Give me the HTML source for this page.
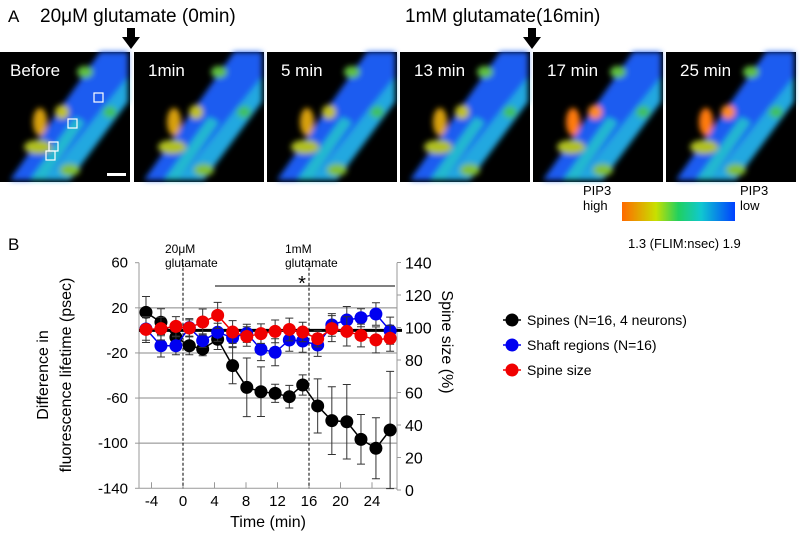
<!DOCTYPE html>
<html><head><meta charset="utf-8"><style>
body{margin:0;width:800px;height:536px;background:#fff;overflow:hidden;font-family:"Liberation Sans",Arial,sans-serif;}
svg{position:absolute;left:0;top:0}
</style></head><body>
<svg width="800" height="536" viewBox="0 0 800 536">
<defs>
<filter id="bl" x="-20%" y="-20%" width="140%" height="140%"><feGaussianBlur stdDeviation="3"/></filter>
<linearGradient id="cb" x1="0" x2="1"><stop offset="0" stop-color="#ff6a00"/><stop offset="0.3" stop-color="#c8e000"/><stop offset="0.5" stop-color="#20d060"/><stop offset="0.7" stop-color="#10c8d0"/><stop offset="1" stop-color="#0040ff"/></linearGradient>
</defs>
<text x="8" y="22" font-size="17">A</text>
<text x="40" y="22" font-size="19">20μM glutamate (0min)</text>
<text x="405" y="22" font-size="19">1mM glutamate(16min)</text>
<g><rect x="127" y="28" width="8" height="10" fill="#000"/><polygon points="122,37 140,37 131,49" fill="#000"/></g>
<g><rect x="528" y="28" width="8" height="10" fill="#000"/><polygon points="523,37 541,37 532,49" fill="#000"/></g>
<g id="panels"></g>
<g>
<text x="583" y="195" font-size="13">PIP3</text><text x="583" y="210" font-size="13">high</text>
<rect x="622" y="202" width="113" height="19" fill="url(#cb)"/>
<text x="740" y="195" font-size="13">PIP3</text><text x="740" y="210" font-size="13">low</text>
<text x="628" y="248" font-size="13">1.3 (FLIM:nsec) 1.9</text>
</g>
<text x="8" y="250" font-size="17">B</text>
<g id="chart"></g>
</svg>
<script>
const NS="http://www.w3.org/2000/svg";
function mk(tag,attrs,parent){const e=document.createElementNS(NS,tag);for(const k in attrs)e.setAttribute(k,attrs[k]);parent.appendChild(e);return e;}
const panelLabels=["Before","1min","5 min","13 min","17 min","25 min"];
const panelX=[0,134,267,400,533,666];
const pg=document.getElementById('panels');
panelLabels.forEach((lb,i)=>{
 const g=mk('g',{transform:`translate(${panelX[i]},52)`},pg);
 
 
 mk('rect',{x:0,y:0,width:130,height:130,fill:'#000'},g);
 const b=mk('g',{filter:'url(#bl)'},g);
 mk('polygon',{points:'10,128 70,128 128,40 128,0 100,0',fill:'#1a5cf0'},b);
 mk('polygon',{points:'45,128 70,128 128,50 128,25',fill:'#20a8e0'},b);
 mk('polygon',{points:'30,128 45,128 85,70 75,65',fill:'#20b8d0'},b);
 mk('ellipse',{cx:40,cy:70,rx:7,ry:14,fill:i>3?'#ff7a10':'#d8a010'},b);
 mk('ellipse',{cx:62,cy:60,rx:7,ry:7,fill:i>3?'#ff8a20':'#c0c020'},b);
 mk('ellipse',{cx:38,cy:95,rx:14,ry:7,fill:'#b0c020'},b);
 mk('ellipse',{cx:110,cy:60,rx:7,ry:6,fill:'#40c060'},b);
 mk('ellipse',{cx:85,cy:20,rx:8,ry:6,fill:'#60c040'},b);
 mk('ellipse',{cx:70,cy:118,rx:10,ry:6,fill:'#80c030'},b);
 const t=mk('text',{x:i==0?10:14,y:24,'font-size':17,fill:'#fff'},g);t.textContent=lb;
 if(i==0){
  [[96,43],[70,69],[51,92],[48,101]].forEach(p=>mk('rect',{x:p[0]-2,y:p[1]-2,width:9,height:9,fill:'none',stroke:'#fff','stroke-width':1.2},g));
  mk('rect',{x:107,y:121,width:19,height:3,fill:'#fff'},g);
 }
});
const times=[-4.7,-2.8,-0.9,0.8,2.5,4.4,6.3,8.1,9.9,11.7,13.5,15.2,17.1,18.9,20.8,22.6,24.5,26.3];
const spines=[16,7.2,-6.1,-13.6,-16.5,-7.9,-31.3,-50.5,-54.4,-55.8,-58.8,-48.4,-67,-80,-81,-96.6,-104.5,-88.3];
const spinesErr=[14,12,10,8,6,9,16,26,22,8,10,9,24,30,33,22,27,52];
const shaft=[1.2,-13.6,-13.6,2.4,-9.1,-1.7,-6.5,-2.6,-16.8,-19.4,-8.5,-9.4,-13,4.8,9.2,11.2,14.5,-0.3];
const shaftErr=[10,10,8,8,6,8,8,8,10,12,10,10,10,10,12,8,10,12];
const spineSize=[98.8,99.3,100.7,99.7,103.4,107.5,97.2,94.5,96.2,97.6,98.8,97.2,93.1,99.3,97.6,95.1,92.4,93.4];
const spineSizeErr=[8,7,6,5,8,8,7,6,6,7,7,6,5,8,9,7,8,8];
const leftTicks=[60,20,-20,-60,-100,-140];
const rightTicks=[140,120,100,80,60,40,20,0];
const xTicks=[-4,0,4,8,12,16,20,24];
const X=t=>183+t*7.875;
const YL=v=>262.7+(60-v)*1.128;
const YR=v=>490+(0-v)*1.625;
const c=document.getElementById('chart');
const PL=139,PR=397,PT=262.7,PB=488.3;
leftTicks.slice(1,5).forEach(v=>{const l=mk('line',{x1:PL,x2:PR,y1:YL(v),y2:YL(v),stroke:'#888','stroke-width':1},c);});
let ax=mk('line',{x1:PL,x2:PL,y1:PT,y2:PB,stroke:'#999'},c);
ax=mk('line',{x1:PR,x2:PR,y1:PT,y2:490,stroke:'#999'},c);
ax=mk('line',{x1:PL,x2:PR,y1:PB,y2:PB,stroke:'#999'},c);
leftTicks.forEach(v=>{mk('line',{x1:PL-4,x2:PL,y1:YL(v),y2:YL(v),stroke:'#999'},c);const t=mk('text',{x:PL-11,y:YL(v)+5,'font-size':15,'text-anchor':'end'},c);t.textContent=v;});
rightTicks.forEach(v=>{mk('line',{x1:PR,x2:PR+4,y1:YR(v),y2:YR(v),stroke:'#999'},c);const t=mk('text',{x:PR+8,y:YR(v)+6,'font-size':16},c);t.textContent=v;});
xTicks.forEach(v=>{mk('line',{x1:X(v),x2:X(v),y1:PB-6,y2:PB,stroke:'#999'},c);const t=mk('text',{x:X(v),y:506,'font-size':15,'text-anchor':'middle'},c);t.textContent=v;});
let tt=mk('text',{x:268,y:527,'font-size':16,'text-anchor':'middle'},c);tt.textContent='Time (min)';
tt=mk('text',{transform:'translate(48,375) rotate(-90)','font-size':16,'text-anchor':'middle'},c);tt.textContent='Difference in';
tt=mk('text',{transform:'translate(71,375) rotate(-90)','font-size':16,'text-anchor':'middle'},c);tt.textContent='fluorescence lifetime (psec)';
tt=mk('text',{transform:'translate(442,342) rotate(90)','font-size':16,'text-anchor':'middle'},c);tt.textContent='Spine size (%)';
[0,16].forEach(v=>{const l=mk('line',{x1:X(v),x2:X(v),y1:PT,y2:PB,stroke:'#000','stroke-dasharray':'3,2','stroke-width':1},c);});
[[165,'20μM'],[285,'1mM']].forEach(p=>{const t=mk('text',{x:p[0],y:253,'font-size':12},c);t.textContent=p[1];const u=mk('text',{x:p[0],y:267,'font-size':12},c);u.textContent='glutamate';});
let sb=mk('line',{x1:215,x2:395,y1:286,y2:286,stroke:'#000'},c);
sb=mk('text',{x:302,y:290,'font-size':20,'text-anchor':'middle'},c);sb.textContent='*';
sb=mk('line',{x1:PL,x2:PR+5,y1:YL(0),y2:YL(0),stroke:'#000','stroke-width':3},c);
function series(vals,errs,Y,color,name){
 const g=mk('g',{},c);
 vals.forEach((v,i)=>{const x=X(times[i]);const e1=Y(v+errs[i]),e2=Y(v-errs[i]);
  const l=mk('path',{d:`M${x},${e1}V${e2}M${x-4},${e1}H${x+4}M${x-4},${e2}H${x+4}`,stroke:'#333','stroke-width':1,fill:'none'},g);});
 const p=mk('polyline',{points:vals.map((v,i)=>X(times[i])+','+Y(v)).join(' '),fill:'none',stroke:color,'stroke-width':1.5},g);
 vals.forEach((v,i)=>{const d=mk('circle',{cx:X(times[i]),cy:Y(v),r:6.5,fill:color},g);});
}
series(spines,spinesErr,YL,'#000','spines');
series(shaft,shaftErr,YL,'#0000f0','shaft');
series(spineSize,spineSizeErr,YR,'#f00000','spine-size');
const legLabels=["Spines (N=16, 4 neurons)","Shaft regions (N=16)","Spine size"];
const legColors=['#000','#0000f0','#f00000'];
legLabels.forEach((lb,i)=>{const g=mk('g',{},c);
 const y=320+i*25;mk('line',{x1:503,x2:521,y1:y,y2:y,stroke:legColors[i],'stroke-width':1.5},g);mk('circle',{cx:512,cy:y,r:6.5,fill:legColors[i]},g);
 const t=mk('text',{x:527,y:y+5,'font-size':14},g);t.textContent=lb;});
</script>
</body></html>
